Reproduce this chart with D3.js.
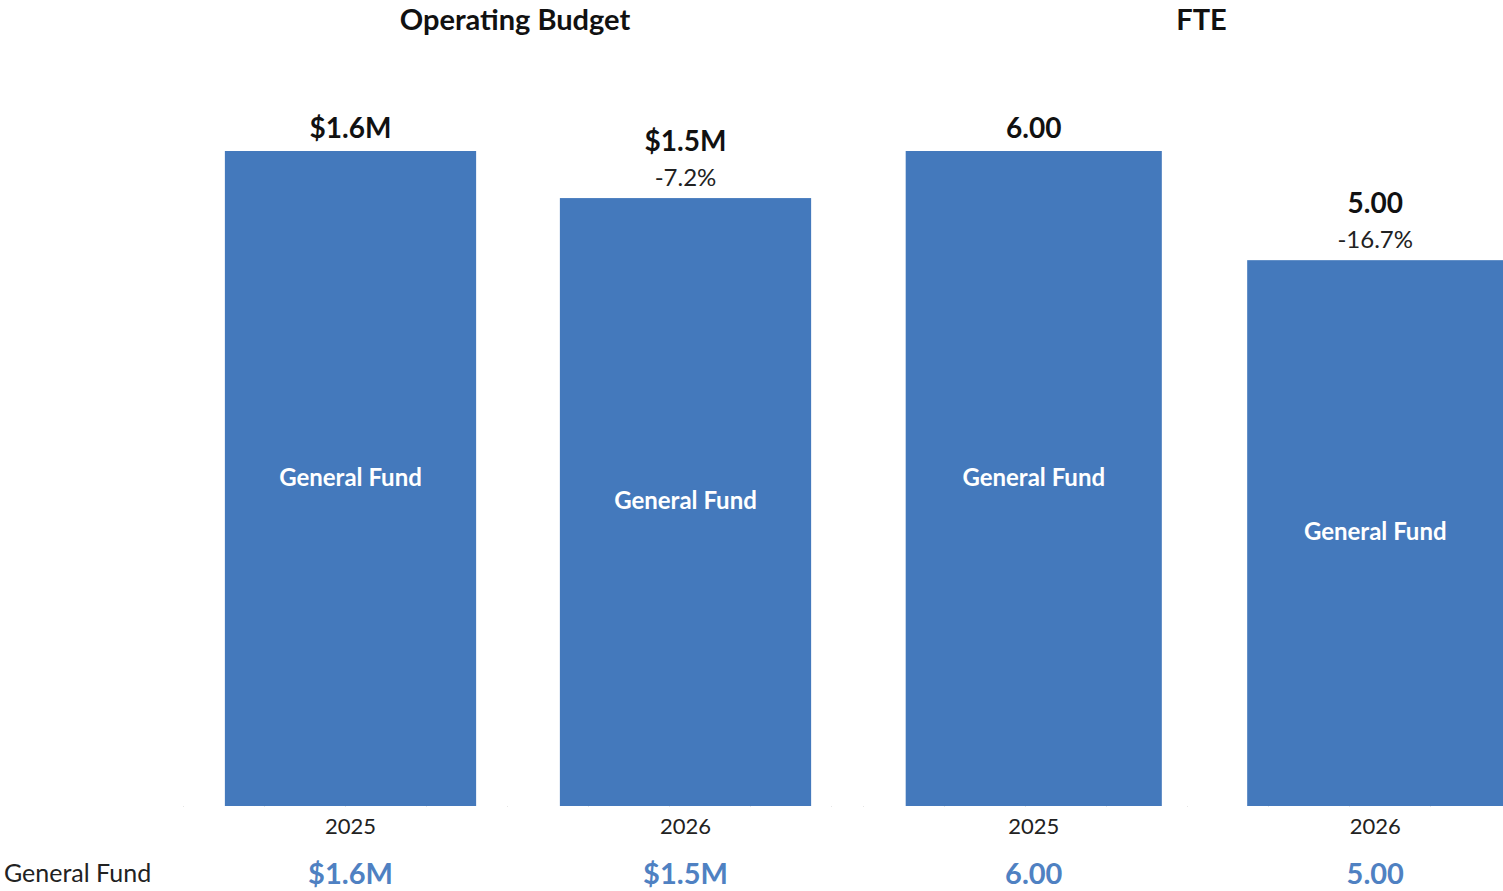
<!DOCTYPE html>
<html><head><meta charset="utf-8">
<script src="https://cdn.jsdelivr.net/npm/d3@7"></script>
<style>
body{margin:0;background:#fff;overflow:hidden}
text{font-family:Lato,"Open Sans",sans-serif}
</style></head>
<body><svg id="c" width="1503" height="891"></svg>
<script>
const years = ["2025","2026"];
const budgetValues = [1600000, 1485000];
const budgetLabels = ["$1.6M","$1.5M"];
const budgetChange = [null, "-7.2%"];
const fteValues = [6.00, 5.00];
const fteLabels = ["6.00","5.00"];
const fteChange = [null, "-16.7%"];
const fundName = "General Fund";

const svg = d3.select("#c");
const BLUE = "#4479BC";
const baseY = 806;

const panels = [
  {title:"Operating Budget", values:budgetValues, labels:budgetLabels, change:budgetChange, range:[183,853], max:1600000, top:151},
  {title:"FTE", values:fteValues, labels:fteLabels, change:fteChange, range:[863,1546], max:6, top:151}
];

panels.forEach(p=>{
  const x = d3.scaleBand().domain(years).range(p.range).paddingInner(0.25).paddingOuter(0.125);
  const y = d3.scaleLinear().domain([0,p.max]).range([baseY,p.top]);
  const g = svg.append("g");
  g.append("line").attr("x1",p.range[0]).attr("x2",p.range[1]).attr("y1",baseY+0.5).attr("y2",baseY+0.5)
    .attr("stroke","#e6e6e6").attr("stroke-dasharray","1,80");
  g.append("text").attr("x",(p.range[0]+p.range[1])/2 - 3).attr("y",30).attr("text-anchor","middle")
    .attr("font-size",29).attr("font-weight","bold").attr("fill","#111").text(p.title);
  const data = years.map((yr,i)=>({yr, v:p.values[i], lab:p.labels[i], ch:p.change[i]}));
  g.selectAll("rect").data(data).join("rect")
    .attr("x",d=>x(d.yr)).attr("width",x.bandwidth())
    .attr("y",d=>y(d.v)).attr("height",d=>baseY-y(d.v)).attr("fill",BLUE);
  g.selectAll("text.in").data(data).join("text").attr("class","in")
    .attr("x",d=>x(d.yr)+x.bandwidth()/2).attr("y",d=>(y(d.v)+baseY)/2+7)
    .attr("text-anchor","middle").attr("font-size",24).attr("font-weight","bold").attr("fill","#fff").text(fundName);
  g.selectAll("text.val").data(data).join("text").attr("class","val")
    .attr("x",d=>x(d.yr)+x.bandwidth()/2).attr("y",d=>y(d.v)-(d.ch?47:13))
    .attr("text-anchor","middle").attr("font-size",28).attr("font-weight","bold").attr("fill","#111").text(d=>d.lab);
  g.selectAll("text.ch").data(data.filter(d=>d.ch)).join("text").attr("class","ch")
    .attr("x",d=>x(d.yr)+x.bandwidth()/2).attr("y",d=>y(d.v)-12)
    .attr("text-anchor","middle").attr("font-size",24).attr("fill","#222").text(d=>d.ch);
  g.selectAll("text.yr").data(data).join("text").attr("class","yr")
    .attr("x",d=>x(d.yr)+x.bandwidth()/2).attr("y",834)
    .attr("text-anchor","middle").attr("font-size",22).attr("fill","#222").text(d=>d.yr);
  g.selectAll("text.bt").data(data).join("text").attr("class","bt")
    .attr("x",d=>x(d.yr)+x.bandwidth()/2).attr("y",884)
    .attr("text-anchor","middle").attr("font-size",29).attr("font-weight","bold").attr("fill","#4F81C2").text(d=>d.lab);
});
svg.append("text").attr("x",4).attr("y",882).attr("font-size",25).attr("fill","#222").text(fundName);
</script></body></html>
